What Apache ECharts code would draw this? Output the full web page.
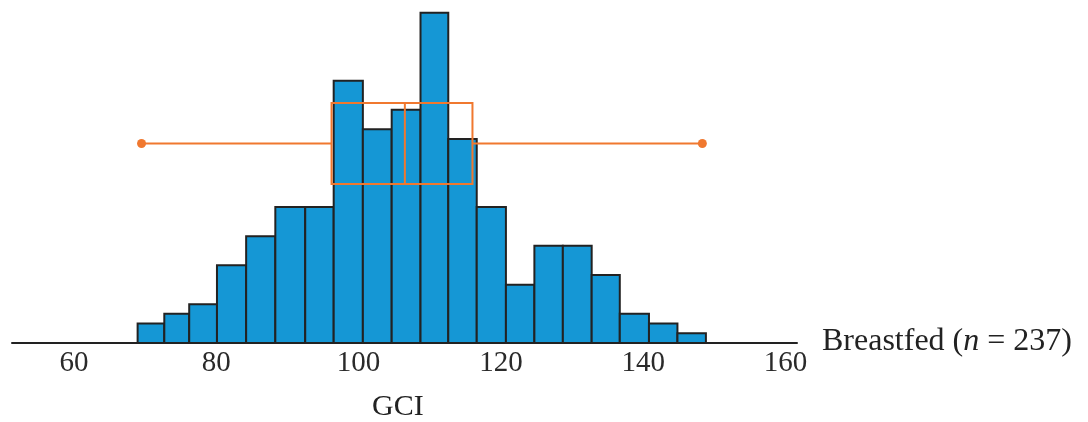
<!DOCTYPE html>
<html>
<head>
<meta charset="utf-8">
<script src="https://cdn.jsdelivr.net/npm/echarts@6/dist/echarts.min.js"></script>
<style>
  html, body { margin: 0; padding: 0; background: #fff; }
  #chart { width: 1088px; height: 422px; }
</style>
</head>
<body>
<div id="chart"></div>
<script>
// Histogram bins (GCI)
const binStart = [68.95, 72.7, 76.2, 80.1, 84.2, 88.3, 92.5, 96.5, 100.6, 104.65, 108.7, 112.6, 116.6, 120.7, 124.7, 128.7, 132.75, 136.7, 140.8, 144.8];
const binEnd   = [72.7, 76.2, 80.1, 84.2, 88.3, 92.5, 96.5, 100.6, 104.65, 108.7, 112.6, 116.6, 120.7, 124.7, 128.7, 132.75, 136.7, 140.8, 144.8, 148.8];
const counts   = [2, 3, 4, 8, 11, 14, 14, 27, 22, 24, 34, 21, 14, 6, 10, 10, 7, 3, 2, 1];

// Box plot summary: [lower whisker, Q1, median, Q3, upper whisker]
const boxStats = [69.5, 96.2, 106.5, 116.0, 148.3];
const groupName = ['Breastfed'];

const tickValues = [60, 80, 100, 120, 140, 160];
const xMin = 51.3, xMax = 161.6;

const serif = '"Liberation Serif", "DejaVu Serif", "Times New Roman", serif';
const blue = '#1597d5';
const orange = '#f0782f';

const histData = binStart.map((s, i) => [s, binEnd[i], counts[i]]);
const boxData = [boxStats.concat([0])];

const chart = echarts.init(document.getElementById('chart'), null, { renderer: 'canvas' });
chart.setOption({
  animation: false,
  backgroundColor: '#fff',
  grid: [
    { left: 12, right: 291, top: 3, bottom: 79 },
    { left: 12, right: 291, top: 103, bottom: 238 }
  ],
  xAxis: [
    {
      type: 'value', gridIndex: 0, min: xMin, max: xMax,
      axisLine: { show: true, onZero: false, lineStyle: { color: '#222', width: 2 } },
      axisTick: { show: false },
      splitLine: { show: false },
      axisLabel: {
        customValues: tickValues,
        fontFamily: serif, fontSize: 29, color: '#2a2a2a', margin: 6
      },
      name: 'Breastfed ({i|n} = 237)',
      nameLocation: 'end',
      nameGap: 25,
      nameTextStyle: {
        fontFamily: serif, fontSize: 32, color: '#222', align: 'left', verticalAlign: 'middle',
        padding: [0, 0, 2, 0],
        rich: { i: { fontFamily: serif, fontSize: 32, fontStyle: 'italic', color: '#222' } }
      }
    },
    {
      type: 'value', gridIndex: 1, min: xMin, max: xMax, show: false
    }
  ],
  yAxis: [
    { type: 'value', gridIndex: 0, min: 0, max: 35, show: false },
    { type: 'category', gridIndex: 1, data: groupName, show: false }
  ],
  graphic: [
    {
      type: 'text', left: 372, top: 392,
      style: { text: 'GCI', font: '30px ' + serif, fill: '#222' }
    }
  ],
  series: [
    {
      type: 'custom',
      xAxisIndex: 0, yAxisIndex: 0,
      data: histData,
      encode: { x: [0, 1], y: 2 },
      z: 2,
      renderItem: function (params, api) {
        const p0 = api.coord([api.value(0), 0]);
        const p1 = api.coord([api.value(1), api.value(2)]);
        return {
          type: 'rect',
          shape: { x: p0[0], y: p1[1], width: p1[0] - p0[0], height: p0[1] - p1[1] },
          style: { fill: blue, stroke: '#222', lineWidth: 2 }
        };
      }
    },
    {
      type: 'custom',
      xAxisIndex: 1, yAxisIndex: 1,
      data: boxData,
      encode: { x: [0, 1, 2, 3, 4], y: 5 },
      z: 5,
      renderItem: function (params, api) {
        const cat = api.value(5);
        const lo = api.coord([api.value(0), cat]);
        const q1 = api.coord([api.value(1), cat]);
        const md = api.coord([api.value(2), cat]);
        const q3 = api.coord([api.value(3), cat]);
        const hi = api.coord([api.value(4), cat]);
        const h = api.size([0, 1])[1];
        const cy = lo[1];
        const lineStyle = { stroke: orange, lineWidth: 2, fill: null };
        return {
          type: 'group',
          children: [
            { type: 'line', shape: { x1: lo[0], y1: cy, x2: q1[0], y2: cy }, style: lineStyle },
            { type: 'line', shape: { x1: q3[0], y1: cy, x2: hi[0], y2: cy }, style: lineStyle },
            { type: 'rect', shape: { x: q1[0], y: cy - h / 2, width: q3[0] - q1[0], height: h }, style: { stroke: orange, lineWidth: 2, fill: 'none' } },
            { type: 'line', shape: { x1: md[0], y1: cy - h / 2, x2: md[0], y2: cy + h / 2 }, style: lineStyle },
            { type: 'circle', shape: { cx: lo[0], cy: cy, r: 4.5 }, style: { fill: orange } },
            { type: 'circle', shape: { cx: hi[0], cy: cy, r: 4.5 }, style: { fill: orange } }
          ]
        };
      }
    }
  ]
});
</script>
</body>
</html>
